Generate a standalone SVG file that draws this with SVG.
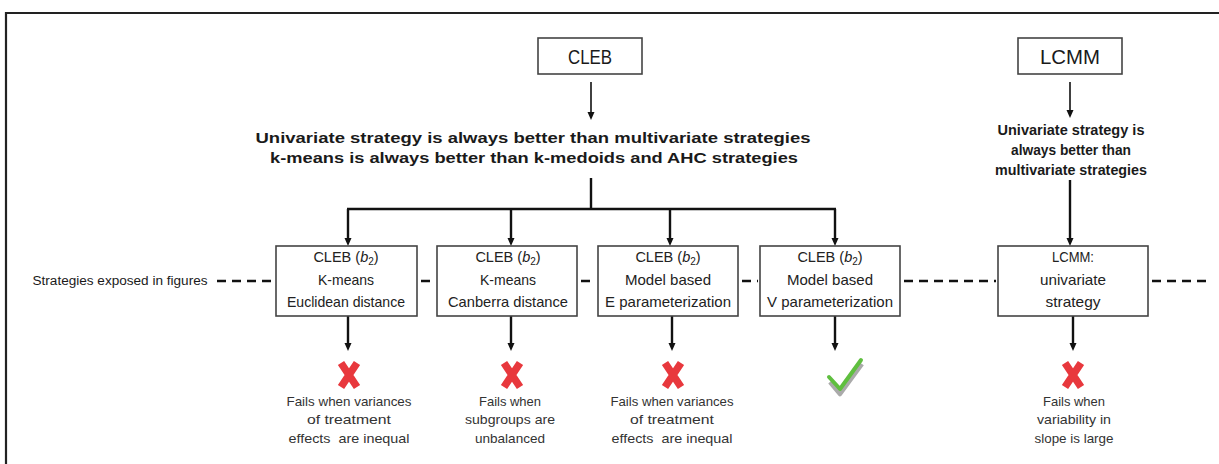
<svg xmlns="http://www.w3.org/2000/svg" width="1219" height="464" viewBox="0 0 1219 464">
<defs>
<style>
.box{fill:#fff;stroke:#444;stroke-width:1.6}
.t{font-family:"Liberation Sans",Arial,sans-serif;fill:#1a1a1a;text-anchor:middle}
.big{font-size:21px}
.bt{font-size:14.5px;fill:#222}
.b{font-weight:bold;font-size:15px}
.f{font-size:13px;fill:#333}
.line{stroke:#111;stroke-width:2.4;fill:none}
.thin{stroke:#111;stroke-width:1.6;fill:none}
.dash{stroke:#111;stroke-width:2.4;stroke-dasharray:9 6;fill:none}
</style>
<marker id="ah" markerWidth="8" markerHeight="8" refX="4" refY="4" orient="auto" markerUnits="userSpaceOnUse">
<path d="M0,0.5 L8,4 L0,7.5 Z" fill="#111"/>
</marker>
<g id="xmark">
<path d="M-8,-12 L8,12 M8,-12 L-8,12" stroke="#e8383d" stroke-width="7.5" stroke-linecap="butt" fill="none"/>
</g>
</defs>

<path d="M6,464 V13 H1219" fill="none" stroke="#222" stroke-width="2.2"/>

<g id="connectors">
<line class="thin" x1="591" y1="82" x2="591" y2="116" marker-end="url(#ah)"/>
<line class="thin" x1="1070" y1="82" x2="1070" y2="114" marker-end="url(#ah)"/>
<line class="line" x1="591" y1="178" x2="591" y2="209"/>
<line class="line" x1="347" y1="209" x2="836" y2="209"/>
<line class="line" x1="348" y1="209" x2="348" y2="242" marker-end="url(#ah)"/>
<line class="line" x1="511" y1="209" x2="511" y2="242" marker-end="url(#ah)"/>
<line class="line" x1="670" y1="209" x2="670" y2="242" marker-end="url(#ah)"/>
<line class="line" x1="835" y1="209" x2="835" y2="242" marker-end="url(#ah)"/>
<line class="line" x1="1070" y1="180" x2="1070" y2="242" marker-end="url(#ah)"/>
<line class="line" x1="348" y1="316" x2="348" y2="347" marker-end="url(#ah)"/>
<line class="line" x1="511" y1="316" x2="511" y2="347" marker-end="url(#ah)"/>
<line class="line" x1="672" y1="316" x2="672" y2="347" marker-end="url(#ah)"/>
<line class="line" x1="835" y1="316" x2="835" y2="347" marker-end="url(#ah)"/>
<line class="line" x1="1073" y1="316" x2="1073" y2="347" marker-end="url(#ah)"/>
<path class="dash" d="M217,281 H276 M421,281 H434 M581,281 H596 M742,281 H758 M904,281 H996 M1152,281 H1210"/>
</g>

<g id="cleb">
<rect class="box" x="538" y="38" width="104" height="36"/>
<text class="t big" x="590" y="64" textLength="44" lengthAdjust="spacingAndGlyphs">CLEB</text>
</g>
<g id="lcmm">
<rect class="box" x="1018" y="38" width="104" height="36"/>
<text class="t big" x="1070" y="64" textLength="60" lengthAdjust="spacingAndGlyphs">LCMM</text>
</g>

<g id="cleb-rule">
<text class="t b" x="533" y="143" textLength="555" lengthAdjust="spacingAndGlyphs">Univariate strategy is always better than multivariate strategies</text>
<text class="t b" x="534" y="163" textLength="528" lengthAdjust="spacingAndGlyphs">k-means is always better than k-medoids and AHC strategies</text>
</g>
<g id="lcmm-rule">
<text class="t b" x="1071" y="135" textLength="147" lengthAdjust="spacingAndGlyphs">Univariate strategy is</text>
<text class="t b" x="1071" y="155" textLength="120" lengthAdjust="spacingAndGlyphs">always better than</text>
<text class="t b" x="1071" y="175" textLength="152" lengthAdjust="spacingAndGlyphs">multivariate strategies</text>
</g>

<g id="legend">
<text class="t" x="120" y="285" font-size="12.5" textLength="175" lengthAdjust="spacingAndGlyphs">Strategies exposed in figures</text>
</g>

<g id="box1">
<rect class="box" x="276" y="246" width="141" height="70"/>
<text class="t bt" x="346" y="262">CLEB (<tspan font-style="italic">b</tspan><tspan font-size="10" dy="3">2</tspan><tspan dy="-3">)</tspan></text>
<text class="t bt" x="346" y="285" textLength="56" lengthAdjust="spacingAndGlyphs">K-means</text>
<text class="t bt" x="346" y="307" textLength="118" lengthAdjust="spacingAndGlyphs">Euclidean distance</text>
</g>
<g id="box2">
<rect class="box" x="437" y="246" width="140" height="70"/>
<text class="t bt" x="508" y="262">CLEB (<tspan font-style="italic">b</tspan><tspan font-size="10" dy="3">2</tspan><tspan dy="-3">)</tspan></text>
<text class="t bt" x="508" y="285" textLength="56" lengthAdjust="spacingAndGlyphs">K-means</text>
<text class="t bt" x="508" y="307" textLength="120" lengthAdjust="spacingAndGlyphs">Canberra distance</text>
</g>
<g id="box3">
<rect class="box" x="598" y="246" width="140" height="70"/>
<text class="t bt" x="668" y="262">CLEB (<tspan font-style="italic">b</tspan><tspan font-size="10" dy="3">2</tspan><tspan dy="-3">)</tspan></text>
<text class="t bt" x="668" y="285" textLength="86" lengthAdjust="spacingAndGlyphs">Model based</text>
<text class="t bt" x="668" y="307" textLength="126" lengthAdjust="spacingAndGlyphs">E parameterization</text>
</g>
<g id="box4">
<rect class="box" x="760" y="246" width="140" height="70"/>
<text class="t bt" x="830" y="262">CLEB (<tspan font-style="italic">b</tspan><tspan font-size="10" dy="3">2</tspan><tspan dy="-3">)</tspan></text>
<text class="t bt" x="830" y="285" textLength="86" lengthAdjust="spacingAndGlyphs">Model based</text>
<text class="t bt" x="830" y="307" textLength="126" lengthAdjust="spacingAndGlyphs">V parameterization</text>
</g>
<g id="box5">
<rect class="box" x="998" y="246" width="150" height="70"/>
<text class="t bt" x="1073" y="262" textLength="42" lengthAdjust="spacingAndGlyphs">LCMM:</text>
<text class="t bt" x="1073" y="285" textLength="66" lengthAdjust="spacingAndGlyphs">univariate</text>
<text class="t bt" x="1073" y="307" textLength="55" lengthAdjust="spacingAndGlyphs">strategy</text>
</g>

<g id="out1">
<use href="#xmark" x="349" y="375"/>
<text class="t f" x="349" y="406" textLength="125" lengthAdjust="spacingAndGlyphs">Fails when variances</text>
<text class="t f" x="349" y="424" textLength="84" lengthAdjust="spacingAndGlyphs">of treatment</text>
<text class="t f" x="349" y="443" textLength="121" lengthAdjust="spacingAndGlyphs" xml:space="preserve">effects  are inequal</text>
</g>
<g id="out2">
<use href="#xmark" x="512" y="375"/>
<text class="t f" x="510" y="406" textLength="62" lengthAdjust="spacingAndGlyphs">Fails when</text>
<text class="t f" x="510" y="424" textLength="90" lengthAdjust="spacingAndGlyphs">subgroups are</text>
<text class="t f" x="510" y="443" textLength="70" lengthAdjust="spacingAndGlyphs">unbalanced</text>
</g>
<g id="out3">
<use href="#xmark" x="673" y="375"/>
<text class="t f" x="672" y="406" textLength="123" lengthAdjust="spacingAndGlyphs">Fails when variances</text>
<text class="t f" x="672" y="424" textLength="84" lengthAdjust="spacingAndGlyphs">of treatment</text>
<text class="t f" x="672" y="443" textLength="121" lengthAdjust="spacingAndGlyphs" xml:space="preserve">effects  are inequal</text>
</g>
<g id="out4">
<path d="M831,380 L841,392 L863,362" stroke="#aaa" stroke-width="4.5" fill="none" stroke-linejoin="round" transform="translate(-1,2)"/>
<path d="M829,377 L840,389 L861,360" stroke="#5fbf3f" stroke-width="4" fill="none" stroke-linejoin="round" stroke-linecap="round"/>
</g>
<g id="out5">
<use href="#xmark" x="1073" y="375"/>
<text class="t f" x="1074" y="406" textLength="62" lengthAdjust="spacingAndGlyphs">Fails when</text>
<text class="t f" x="1074" y="424" textLength="74" lengthAdjust="spacingAndGlyphs">variability in</text>
<text class="t f" x="1074" y="443" textLength="79" lengthAdjust="spacingAndGlyphs">slope is large</text>
</g>
</svg>
